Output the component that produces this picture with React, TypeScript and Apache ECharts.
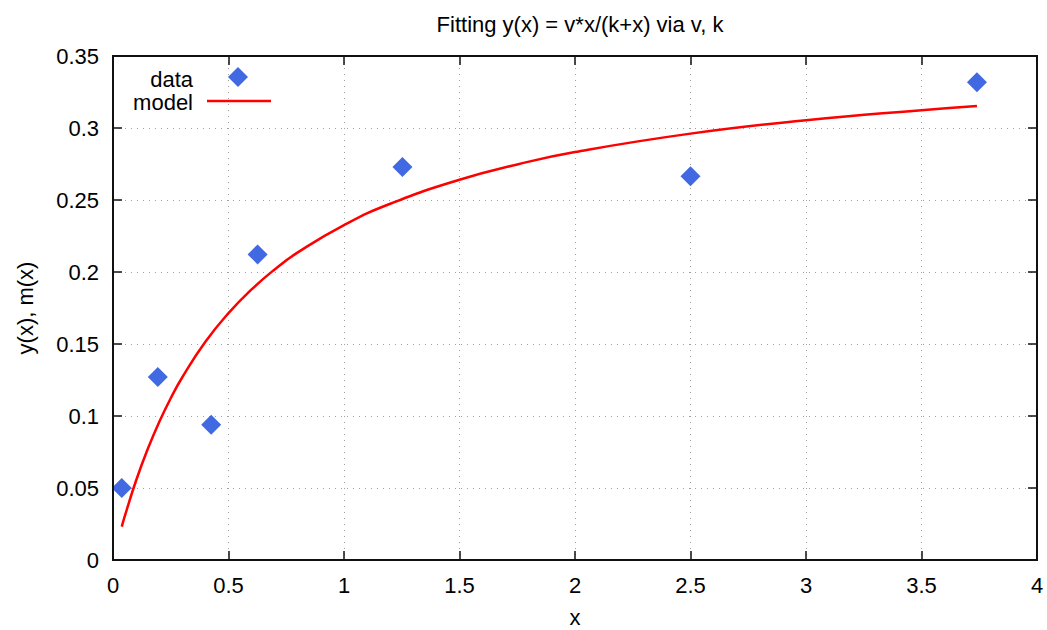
import React, { useEffect, useRef } from "react";
import * as echarts from "echarts";

const dataX = [0.038, 0.194, 0.425, 0.626, 1.253, 2.5, 3.74];
const dataY = [0.05, 0.127, 0.094, 0.2122, 0.2729, 0.2665, 0.3317];

const modelX = [0.038, 0.05, 0.1, 0.15, 0.2, 0.25, 0.3, 0.4, 0.5, 0.6, 0.7, 0.8, 1.0, 1.2, 1.5, 1.75, 2.0, 2.5, 3.0, 3.5, 3.74];
const modelY = [0.0232, 0.0299, 0.0552, 0.0769, 0.0958, 0.1123, 0.1269, 0.1515, 0.1714, 0.1879, 0.2018, 0.2136, 0.2326, 0.2474, 0.2641, 0.2747, 0.2833, 0.2961, 0.3054, 0.3124, 0.3152];

const FONT = "'Liberation Sans', Arial, Helvetica, sans-serif";
const FS = 22;

export default function App() {
  const ref = useRef<HTMLDivElement>(null);
  useEffect(() => {
    if (!ref.current) return;
    const chart = echarts.init(ref.current, undefined, { renderer: "svg" });
    const gridLine = () => ({ show: true, lineStyle: { color: "#a0a0a0", width: 1, type: [1, 5] as any } });
    const axisLine = (show: boolean) => ({ show, onZero: false, lineStyle: { color: "#111111", width: 2 } });
    const tick = () => ({ show: true, inside: true, length: 9, lineStyle: { color: "#111111", width: 1.5 } });
    chart.setOption({
      animation: false,
      backgroundColor: "#fff",
      textStyle: { fontFamily: FONT },
      title: {
        text: "Fitting y(x) = v*x/(k+x) via v, k",
        left: 575,
        textAlign: "center",
        top: 8,
        textStyle: { fontFamily: FONT, fontSize: FS, fontWeight: "normal", color: "#000" },
      },
      grid: {
        left: 113,
        right: 10,
        top: 56,
        bottom: 70,
        containLabel: false,
        outerBoundsMode: "none",
        show: true,
        borderColor: "#111111",
        borderWidth: 2,
        backgroundColor: "rgba(0,0,0,0)",
        z: 10,
      },
      xAxis: [
        {
          type: "value",
          min: 0,
          max: 4,
          interval: 0.5,
          position: "bottom",
          name: "x",
          nameLocation: "middle",
          nameGap: 46,
          nameTextStyle: { fontFamily: FONT, fontSize: FS, color: "#000" },
          axisLine: axisLine(true),
          axisTick: tick(),
          axisLabel: { fontFamily: FONT, fontSize: FS, color: "#000", margin: 14 },
          splitLine: gridLine(),
        },
        {
          type: "value",
          min: 0,
          max: 4,
          interval: 0.5,
          position: "top",
          axisLine: axisLine(true),
          axisTick: tick(),
          axisLabel: { show: false },
          splitLine: { show: false },
        },
      ],
      yAxis: [
        {
          type: "value",
          min: 0,
          max: 0.35,
          interval: 0.05,
          position: "left",
          name: "y(x), m(x)",
          nameLocation: "middle",
          nameGap: 77,
          nameRotate: 90,
          nameTextStyle: { fontFamily: FONT, fontSize: FS, color: "#000" },
          axisLine: axisLine(true),
          axisTick: tick(),
          axisLabel: { fontFamily: FONT, fontSize: FS, color: "#000", margin: 14 },
          splitLine: gridLine(),
        },
        {
          type: "value",
          min: 0,
          max: 0.35,
          interval: 0.05,
          position: "right",
          axisLine: axisLine(true),
          axisTick: tick(),
          axisLabel: { show: false },
          splitLine: { show: false },
        },
      ],
      series: [
        {
          name: "model",
          type: "line",
          data: modelX.map((x, i) => [x, modelY[i]]),
          smooth: true,
          showSymbol: false,
          lineStyle: { color: "#ff0000", width: 2.5 },
          z: 2,
        },
        {
          name: "data",
          type: "scatter",
          data: dataX.map((x, i) => [x, dataY[i]]),
          symbol: "diamond",
          symbolSize: 20,
          itemStyle: { color: "#4169e1", opacity: 1 },
          z: 3,
        },
        {
          name: "mirror",
          type: "line",
          xAxisIndex: 1,
          yAxisIndex: 1,
          data: [],
          silent: true,
        },
      ],
      graphic: [
        {
          type: "text",
          x: 193,
          y: 79,
          style: { text: "data", fontFamily: FONT, fontSize: FS, fill: "#000", align: "right", verticalAlign: "middle" },
        },
        {
          type: "text",
          x: 193,
          y: 102,
          style: { text: "model", fontFamily: FONT, fontSize: FS, fill: "#000", align: "right", verticalAlign: "middle" },
        },
        {
          type: "polygon",
          shape: { points: [[238, 67], [248, 77], [238, 87], [228, 77]] },
          style: { fill: "#4169e1" },
        },
        {
          type: "line",
          shape: { x1: 207, y1: 101, x2: 271, y2: 101 },
          style: { stroke: "#ff0000", lineWidth: 2.5 },
        },
      ],
    });
    return () => chart.dispose();
  }, []);
  return <div ref={ref} style={{ width: 1047, height: 630, position: "absolute", left: 0, top: 0 }} />;
}
